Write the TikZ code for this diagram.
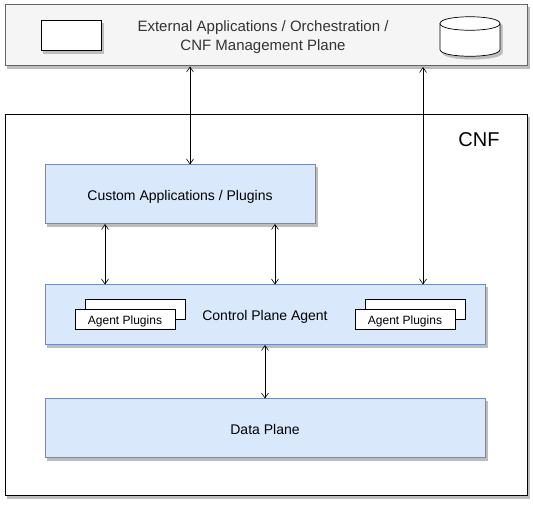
\documentclass[tikz,border=0pt]{standalone}
\usepackage{fontspec}
\setmainfont{Liberation Sans}
\usetikzlibrary{arrows.meta,shapes.geometric}
\definecolor{bluefill}{HTML}{DAE8FC}
\definecolor{blueline}{HTML}{6C8EBF}
\definecolor{greyfill}{HTML}{F5F5F5}
\definecolor{greyline}{HTML}{666666}
\definecolor{shade}{HTML}{BDBDBD}
\tikzset{
  x=1pt,y=-1pt,
  shadowed/.style={preaction={draw=shade,fill=shade,transform canvas={xshift=2.5pt,yshift=-3pt}}},
  box/.style={rectangle,anchor=north west,inner sep=0pt,outer sep=0pt,line width=.7pt},
  bluebox/.style={box,draw=blueline,fill=bluefill,shadowed},
  plugin/.style={box,draw=black,fill=white,minimum width=100pt,minimum height=20pt},
  label/.style={font=\fontsize{14}{17}\selectfont,inner sep=0pt},
  pluginlabel/.style={font=\fontsize{12}{14}\selectfont,inner sep=0pt},
  link/.style={draw=black,line width=.6pt,{Straight Barb[length=5pt,width=7pt]}-{Straight Barb[length=5pt,width=7pt]}}
}
\begin{document}
\begin{tikzpicture}
\useasboundingbox (0,0) rectangle (533,504);
\node[box,draw=greyline,fill=greyfill,shadowed,minimum width=522pt,minimum height=61pt] (ext) at (5,4.5) {};
\node[text=black!80,font=\fontsize{15}{19}\selectfont,align=center,inner sep=0pt] (extlabel) at (263,37.5) {External Applications / Orchestration /\\CNF Management Plane};
\node[box,draw=black,fill=white,shadowed,minimum width=60pt,minimum height=30pt] (rect) at (41,20) {};
% cylinder
\path[draw=black,fill=white,line width=.7pt,shadowed] (440,23.5) .. controls (440,14.5) and (500,14.5) .. (500,23.5) -- (500,49.5) .. controls (500,58.5) and (440,58.5) .. (440,49.5) -- cycle;
\draw[black,line width=.7pt] (440,23.5) .. controls (440,32.5) and (500,32.5) .. (500,23.5);
\node[box,draw=black,fill=white,minimum width=522pt,minimum height=381pt,shadowed] (cnf) at (5,114.5) {};
\node[font=\fontsize{20}{24}\selectfont,inner sep=0pt] (cnflabel) at (479,140) {CNF};
\node[bluebox,minimum width=270pt,minimum height=59pt] (custom) at (45,164.5) {};
\node[label] (customlabel) at (180,196.5) {Custom Applications / Plugins};
\node[bluebox,minimum width=440pt,minimum height=60pt] (control) at (45,284.5) {};
\node[label] (controllabel) at (265,316.5) {Control Plane Agent};
\node[bluebox,minimum width=440pt,minimum height=59pt] (data) at (45,398.5) {};
\node[label] (datalabel) at (265,429) {Data Plane};
\node[plugin] (lback) at (85,299.5) {};
\node[plugin] (lfront) at (75,309.5) {};
\node[pluginlabel,yshift=-1.8pt] (lfrontlabel) at (lfront.center) {Agent Plugins};
\node[plugin] (rback) at (365,299.5) {};
\node[plugin] (rfront) at (355,309.5) {};
\node[pluginlabel,yshift=-1.8pt] (rfrontlabel) at (rfront.center) {Agent Plugins};
\coordinate (a1t) at (190,66.5); \coordinate (a1b) at (190,164.5);
\coordinate (a2t) at (423,67); \coordinate (a2b) at (423,284.5);
\coordinate (a3t) at (105,224); \coordinate (a3b) at (105,284.5);
\coordinate (a4t) at (275,224); \coordinate (a4b) at (275,284.5);
\coordinate (a5t) at (265,345); \coordinate (a5b) at (265,398.5);
\draw[link] (a1t) -- (a1b);
\draw[link] (a2t) -- (a2b);
\draw[link] (a3t) -- (a3b);
\draw[link] (a4t) -- (a4b);
\draw[link] (a5t) -- (a5b);
\end{tikzpicture}
\end{document}
